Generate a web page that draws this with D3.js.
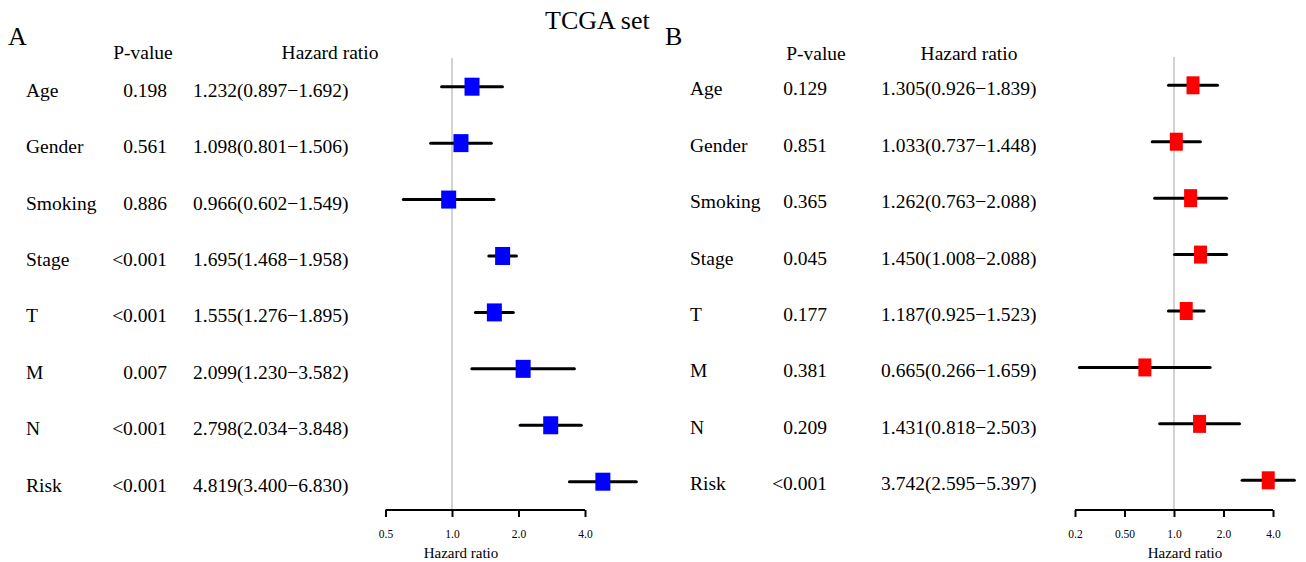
<!DOCTYPE html>
<html>
<head>
<meta charset="utf-8">
<script src="https://cdn.jsdelivr.net/npm/d3@7"></script>
<style>
  html, body { margin: 0; padding: 0; background: #fff; }
  svg { display: block; font-family: "Liberation Serif", "Times New Roman", serif; }
</style>
</head>
<body>
<svg id="chart" width="1306" height="562"></svg>
<script>
// Univariate Cox results, TCGA set
const variables = ["Age", "Gender", "Smoking", "Stage", "T", "M", "N", "Risk"];

// Panel A
const pA  = ["0.198", "0.561", "0.886", "<0.001", "<0.001", "0.007", "<0.001", "<0.001"];
const hrA = [1.232, 1.098, 0.966, 1.695, 1.555, 2.099, 2.798, 4.819];
const loA = [0.897, 0.801, 0.602, 1.468, 1.276, 1.230, 2.034, 3.400];
const hiA = [1.692, 1.506, 1.549, 1.958, 1.895, 3.582, 3.848, 6.830];
const ticksA = [0.5, 1, 2, 4];
const tickLabelsA = ["0.5", "1.0", "2.0", "4.0"];

// Panel B
const pB  = ["0.129", "0.851", "0.365", "0.045", "0.177", "0.381", "0.209", "<0.001"];
const hrB = [1.305, 1.033, 1.262, 1.450, 1.187, 0.665, 1.431, 3.742];
const loB = [0.926, 0.737, 0.763, 1.008, 0.925, 0.266, 0.818, 2.595];
const hiB = [1.839, 1.448, 2.088, 2.088, 1.523, 1.659, 2.503, 5.397];
const ticksB = [0.25, 0.5, 1, 2, 4];
const tickLabelsB = ["0.2", "0.50", "1.0", "2.0", "4.0"];

const svg = d3.select("#chart");

svg.append("text")
  .attr("x", 545).attr("y", 29)
  .attr("font-size", 26)
  .text("TCGA set");

function panel(cfg) {
  const g = svg.append("g");
  const fs = 19.5;

  g.append("text").attr("x", cfg.letterX).attr("y", 45)
    .attr("font-size", 26).text(cfg.letter);

  g.append("text").attr("x", cfg.pHeadX).attr("y", cfg.headY)
    .attr("text-anchor", "middle").attr("font-size", fs).text("P-value");
  g.append("text").attr("x", cfg.hrHeadX).attr("y", cfg.headY)
    .attr("text-anchor", "middle").attr("font-size", fs).text("Hazard ratio");

  const x = d3.scaleLog().base(2).domain([1, 4]).range([cfg.x1, cfg.x4]);
  const y = d3.scaleLinear().domain([0, variables.length - 1]).range(cfg.yRange);

  const rows = variables.map((v, i) => ({
    name: v, p: cfg.p[i], hr: cfg.hr[i], lo: cfg.lo[i], hi: cfg.hi[i], i
  }));

  // reference line at HR = 1
  g.append("line")
    .attr("x1", x(1)).attr("x2", x(1))
    .attr("y1", cfg.refTop).attr("y2", cfg.axisY)
    .attr("stroke", "#d3d3d3").attr("stroke-width", 2);

  // text columns
  const txt = g.append("g").attr("font-size", fs);
  txt.selectAll("text.name").data(rows).join("text")
    .attr("class", "name")
    .attr("x", cfg.nameX).attr("y", d => y(d.i) + 10)
    .text(d => d.name);
  txt.selectAll("text.pval").data(rows).join("text")
    .attr("class", "pval")
    .attr("x", cfg.pX).attr("y", d => y(d.i) + 10)
    .attr("text-anchor", "end")
    .text(d => d.p);
  txt.selectAll("text.hrtext").data(rows).join("text")
    .attr("class", "hrtext")
    .attr("x", cfg.hrX).attr("y", d => y(d.i) + 10)
    .text(d => `${d.hr.toFixed(3)}(${d.lo.toFixed(3)}\u2212${d.hi.toFixed(3)})`);

  // confidence intervals
  g.selectAll("line.ci").data(rows).join("line")
    .attr("class", "ci")
    .attr("x1", d => x(d.lo)).attr("x2", d => x(d.hi))
    .attr("y1", d => y(d.i)).attr("y2", d => y(d.i))
    .attr("stroke", "#000").attr("stroke-width", 3)
    .attr("stroke-linecap", "round");

  // point estimates
  g.selectAll("rect.box").data(rows).join("rect")
    .attr("class", "box")
    .attr("x", d => x(d.hr) - cfg.boxW / 2)
    .attr("y", d => y(d.i) - 9)
    .attr("width", cfg.boxW).attr("height", 18)
    .attr("fill", cfg.color);

  // axis
  const axis = d3.axisBottom(x)
    .tickValues(cfg.ticks)
    .tickFormat((d, i) => cfg.tickLabels[i])
    .tickSize(7)
    .tickSizeOuter(0);
  const ax = g.append("g")
    .attr("transform", `translate(0,${cfg.axisY})`)
    .call(axis);
  ax.select(".domain")
    .attr("d", `M${x(cfg.ticks[0])},0H${x(cfg.ticks[cfg.ticks.length - 1])}`)
    .attr("stroke", "#000").attr("stroke-width", 2);
  ax.selectAll(".tick line").attr("stroke", "#000").attr("stroke-width", 2);
  ax.selectAll(".tick text")
    .attr("font-family", "Liberation Serif, serif")
    .attr("font-size", 11.5)
    .attr("fill", "#000")
    .attr("dy", null)
    .attr("y", 28);
  ax.attr("font-family", null).attr("font-size", null);

  g.append("text")
    .attr("x", cfg.axisTitleX).attr("y", 558)
    .attr("text-anchor", "middle").attr("font-size", 15)
    .text("Hazard ratio");
}

panel({
  letter: "A", letterX: 8, headY: 59,
  pHeadX: 143, hrHeadX: 330,
  nameX: 26, pX: 167, hrX: 193,
  p: pA, hr: hrA, lo: loA, hi: hiA,
  ticks: ticksA, tickLabels: tickLabelsA,
  x1: 452, x4: 585, yRange: [86.7, 481.7],
  refTop: 58, axisY: 510, boxW: 15, color: "#0000ff",
  axisTitleX: 461
});

panel({
  letter: "B", letterX: 665, headY: 60,
  pHeadX: 816, hrHeadX: 969,
  nameX: 690, pX: 827, hrX: 881,
  p: pB, hr: hrB, lo: loB, hi: hiB,
  ticks: ticksB, tickLabels: tickLabelsB,
  x1: 1174, x4: 1273, yRange: [85.3, 480.3],
  refTop: 57, axisY: 510, boxW: 13, color: "#ff0000",
  axisTitleX: 1185
});
</script>
</body>
</html>
